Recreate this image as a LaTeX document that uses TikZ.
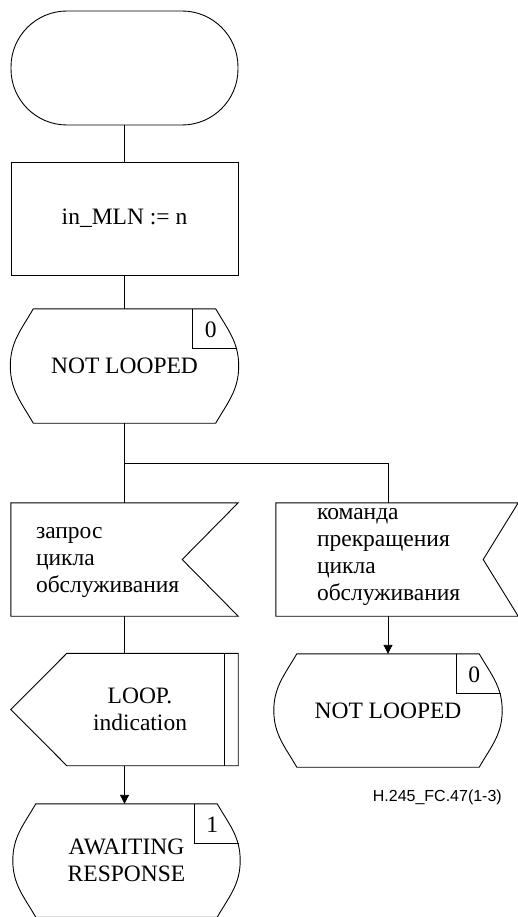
\documentclass[tikz,border=0pt]{standalone}
\usepackage{fontspec}
\setmainfont{Liberation Serif}
\setsansfont{Liberation Sans}
\usetikzlibrary{arrows.meta}

\tikzset{
  sdlbox/.style={minimum width=227pt, minimum height=113pt, inner sep=0pt},
  sdlline/.style={line width=0.9pt, line join=miter},
  sdltext/.style={font=\fontsize{23.5}{27}\selectfont, align=center, inner sep=0pt},
  sdlnum/.style={font=\fontsize{23.5}{27}\selectfont, inner sep=0pt},
  flow/.style={line width=0.9pt},
  flowarrow/.style={flow, -{Triangle[length=9pt,width=9pt]}},
}

\begin{document}
\begin{tikzpicture}[x=1pt, y=1pt]
% SDL symbols drawn round empty nodes
\providecommand{\sdlState}[1]{%
  \draw[sdlline] ([xshift=23pt]#1.north west) -- ([xshift=-23pt]#1.north east)
    to[out=-60,in=90] (#1.east) to[out=-90,in=60] ([xshift=-23pt]#1.south east)
    -- ([xshift=23pt]#1.south west) to[out=120,in=-90] (#1.west)
    to[out=90,in=-120] ([xshift=23pt]#1.north west) -- cycle;}
\providecommand{\sdlStateNum}[2]{%
  \draw[sdlline] ([xshift=-46pt]#1.north east) -- ++(0,-40) -- ++(44.5,0);
  \node[sdlnum] (#1-num) at ([xshift=-28pt,yshift=-21pt]#1.north east) {#2};}
\providecommand{\sdlInput}[2]{%
  \draw[sdlline] (#1.north west) -- (#1.north east) -- ([xshift=-#2]#1.east)
    -- (#1.south east) -- (#1.south west) -- cycle;}
\useasboundingbox (0,0) rectangle (518,-917);

% Start and task
\node[sdlbox, minimum height=114pt, sdlline, draw, rounded corners=56pt] (start) at (124.5,-68) {};
\node[sdlbox, sdlline, draw, sdltext] (task) at (124.5,-218.5) {in\_MLN := n};

% State NOT LOOPED
\node[sdlbox, minimum width=228pt, minimum height=114pt, sdltext] (nl1) at (124.5,-366) {NOT LOOPED};
\sdlState{nl1}
\sdlStateNum{nl1}{0}

% Inputs
\node[sdlbox] (in1) at (124.5,-559.5) {};
\sdlInput{in1}{56pt}
\node[sdltext, align=left, anchor=west] (in1-text) at ([xshift=25pt,yshift=-3pt]in1.west)
  {запрос\\цикла\\обслуживания};
\node[sdlbox, minimum width=242pt] (in2) at (397,-559.5) {};
\sdlInput{in2}{35pt}
\node[sdltext, align=left, anchor=west] (in2-text) at ([xshift=41pt,yshift=2.5pt]in2.west)
  {команда\\прекращения\\цикла\\обслуживания};

% Output
\node[sdlbox, minimum height=112pt] (out) at (124.5,-709.5) {};
\draw[sdlline] ([xshift=56pt]out.north west) -- (out.north east) -- (out.south east)
  -- ([xshift=56pt]out.south west) -- (out.west) -- cycle;
\draw[sdlline] ([xshift=-14pt]out.north east) -- ([xshift=-14pt]out.south east);
\node[sdltext] (out-text) at ([xshift=15.5pt]out.center) {LOOP.\\indication};

% Next states
\node[sdlbox, minimum width=228pt, sdltext] (nl2) at (388,-710.5) {NOT LOOPED};
\sdlState{nl2}
\sdlStateNum{nl2}{0}
\node[sdlbox, sdltext] (aw) at (126.5,-860.5) {AWAITING\\RESPONSE};
\sdlState{aw}
\sdlStateNum{aw}{1}

% Connectors
\coordinate (split) at (124.5,-463);
\draw[flow] (start) -- (task);
\draw[flow] (task) -- (nl1);
\draw[flow] (nl1) -- (split) -- (in1);
\draw[flow] (split) -| (nl2 |- in2.north);
\draw[flowarrow] (nl2 |- in2.south) -- (nl2);
\draw[flow] (in1) -- (out);
\draw[flowarrow] (out.south) -- (out.south |- aw.north);

\node[font=\sffamily\fontsize{16}{18}\selectfont, anchor=east, inner sep=0pt] (figlabel) at (502,-797) {H.245\_FC.47(1-3)};
\end{tikzpicture}
\end{document}
